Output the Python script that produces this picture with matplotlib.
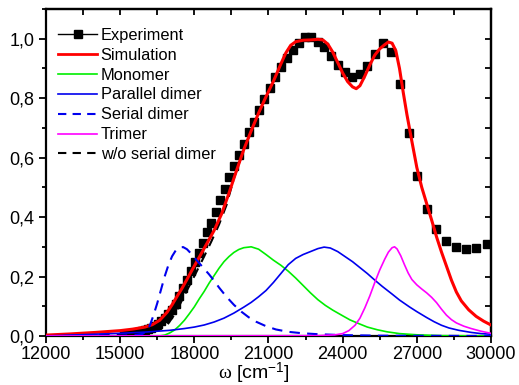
import numpy as np
import matplotlib
matplotlib.use('Agg')
import matplotlib.pyplot as plt
from matplotlib.ticker import MultipleLocator, FuncFormatter
from matplotlib.lines import Line2D

plt.rcParams['font.family'] = ['Liberation Sans', 'DejaVu Sans']
plt.rcParams['mathtext.fontset'] = 'custom'
plt.rcParams['mathtext.rm'] = 'Liberation Sans'
plt.rcParams['mathtext.it'] = 'Liberation Serif'

# 实验数据 (cm^-1, 归一化吸收)
exp_w = [15152, 15267, 15385, 15504, 15625, 15748, 15873, 16000, 16129, 16260,
         16393, 16529, 16667, 16807, 16949, 17094, 17241, 17391, 17544, 17699,
         17857, 18018, 18182, 18349, 18519, 18692, 18868, 19048, 19231, 19417,
         19608, 19802, 20000, 20202, 20408, 20619, 20833, 21053, 21277, 21505,
         21739, 21978, 22222, 22472, 22727, 22989, 23256, 23529, 23810, 24096,
         24390, 24691, 25000, 25316, 25641, 25974, 26316, 26667, 27027, 27397,
         27778, 28169, 28571, 28986, 29412, 29851]
exp_y = [0.005, 0.006, 0.008, 0.009, 0.011, 0.013, 0.016, 0.019, 0.023, 0.028,
         0.033, 0.041, 0.050, 0.060, 0.073, 0.088, 0.108, 0.133, 0.160, 0.190,
         0.219, 0.248, 0.280, 0.314, 0.349, 0.380, 0.417, 0.457, 0.494, 0.534,
         0.571, 0.608, 0.645, 0.686, 0.719, 0.760, 0.797, 0.834, 0.871, 0.904,
         0.934, 0.961, 0.985, 1.005, 1.005, 0.988, 0.971, 0.941, 0.911, 0.887,
         0.871, 0.881, 0.908, 0.948, 0.985, 0.955, 0.847, 0.682, 0.538, 0.427,
         0.360, 0.319, 0.299, 0.292, 0.296, 0.309]

# 模拟
sim_w = [12000, 13000, 14000, 15000, 15500, 16000, 16300, 16600, 16900, 17100,
         17300, 17500, 17700, 17950, 18200, 18500, 18800, 19100, 19400, 19700,
         20000, 20300, 20600, 20900, 21200, 21500, 21700, 21900, 22100, 22400,
         22700, 23000, 23200, 23400, 23600, 23800, 24000, 24200, 24400, 24550,
         24700, 24900, 25100, 25300, 25500, 25700, 25850, 26000, 26150, 26300,
         26450, 26600, 26800, 27000, 27200, 27400, 27600, 27800, 28000, 28200,
         28400, 28600, 28800, 29100, 29400, 29700, 30000]
sim_y = [0.003, 0.007, 0.012, 0.018, 0.023, 0.030, 0.038, 0.053, 0.080, 0.105,
         0.133, 0.160, 0.190, 0.228, 0.265, 0.310, 0.355, 0.410, 0.480, 0.555,
         0.627, 0.690, 0.750, 0.805, 0.857, 0.915, 0.952, 0.978, 0.990, 0.995,
         0.996, 0.998, 0.996, 0.982, 0.955, 0.920, 0.885, 0.856, 0.838, 0.832,
         0.842, 0.875, 0.912, 0.945, 0.966, 0.980, 0.989, 0.985, 0.960, 0.900,
         0.820, 0.745, 0.655, 0.567, 0.500, 0.445, 0.390, 0.333, 0.282, 0.235,
         0.188, 0.148, 0.118, 0.088, 0.066, 0.050, 0.037]

# 单体
mono_w = [12000, 16600, 16800, 17000, 17200, 17400, 17600, 17800, 18000, 18200,
          18400, 18600, 18800, 19000, 19200, 19400, 19600, 19800, 20000, 20300,
          20600, 20900, 21200, 21500, 21800, 22100, 22400, 22700, 23000, 23300,
          23600, 24000, 24300, 24700, 25000, 25400, 25800, 26300, 27000, 28000,
          30000]
mono_y = [0.0, 0.0, 0.003, 0.010, 0.020, 0.035, 0.053, 0.075, 0.098, 0.125,
          0.150, 0.178, 0.203, 0.228, 0.250, 0.267, 0.281, 0.291, 0.297, 0.300,
          0.292, 0.274, 0.255, 0.238, 0.218, 0.195, 0.170, 0.145, 0.122, 0.103,
          0.087, 0.068, 0.054, 0.040, 0.030, 0.021, 0.014, 0.008, 0.004, 0.001,
          0.0]

# 平行二聚体
par_w = [12000, 13000, 14000, 15000, 16000, 17000, 17600, 18000, 18400, 18800,
         19200, 19600, 20000, 20300, 20600, 20900, 21200, 21500, 21800, 22100,
         22400, 22700, 23000, 23250, 23500, 23800, 24100, 24400, 24700, 25000,
         25300, 25600, 26000, 26300, 26700, 27000, 27400, 27700, 28000, 28300,
         28700, 29200, 29600, 30000]
par_y = [0.0, 0.003, 0.006, 0.009, 0.013, 0.019, 0.025, 0.030, 0.037, 0.047,
         0.060, 0.077, 0.097, 0.113, 0.132, 0.153, 0.180, 0.210, 0.240, 0.261,
         0.274, 0.284, 0.294, 0.299, 0.296, 0.284, 0.267, 0.250, 0.230, 0.210,
         0.188, 0.167, 0.141, 0.121, 0.098, 0.082, 0.062, 0.048, 0.036, 0.027,
         0.019, 0.012, 0.008, 0.006]

# 串联二聚体
ser_w = [12000, 15000, 15600, 15900, 16050, 16200, 16350, 16500, 16650, 16800,
         16950, 17100, 17250, 17400, 17550, 17700, 17850, 18000, 18200, 18400,
         18600, 18800, 19000, 19300, 19600, 19900, 20200, 20500, 20900, 21300,
         21800, 22400, 23000, 24000, 25500, 30000]
ser_y = [0.0, 0.001, 0.003, 0.007, 0.015, 0.035, 0.070, 0.110, 0.155, 0.200,
         0.238, 0.268, 0.288, 0.298, 0.299, 0.292, 0.279, 0.264, 0.245, 0.226,
         0.207, 0.186, 0.163, 0.132, 0.105, 0.082, 0.063, 0.048, 0.033, 0.022,
         0.014, 0.009, 0.006, 0.003, 0.001, 0.0]

# 三聚体
tri_w = [12000, 23000, 23700, 24000, 24250, 24500, 24700, 24900, 25100, 25300,
         25500, 25700, 25850, 26000, 26100, 26200, 26350, 26500, 26650, 26800,
         27000, 27200, 27400, 27600, 27800, 28000, 28200, 28400, 28600, 28900,
         29200, 29600, 30000]
tri_y = [0.0, 0.001, 0.004, 0.008, 0.018, 0.036, 0.060, 0.095, 0.135, 0.180,
         0.222, 0.258, 0.282, 0.297, 0.300, 0.293, 0.270, 0.240, 0.212, 0.190,
         0.172, 0.158, 0.145, 0.130, 0.112, 0.090, 0.070, 0.055, 0.044, 0.033,
         0.025, 0.016, 0.009]

# 无串联二聚体
wo_w = [12000, 14000, 15000, 16000, 16400, 16700, 16900, 17100, 17300, 17500,
        17700, 17900, 18100, 18400, 18700, 19000, 19300, 19600, 20000, 20500]
wo_y = [0.001, 0.004, 0.007, 0.011, 0.016, 0.025, 0.037, 0.060, 0.087, 0.120,
        0.153, 0.185, 0.218, 0.268, 0.320, 0.375, 0.440, 0.530, 0.627, 0.730]

fig = plt.figure(figsize=(5.19, 3.85), dpi=100)
ax = fig.add_axes([0.0886, 0.1273, 0.8574, 0.8493])

ax.plot(exp_w, exp_y, linestyle='none', marker='s', ms=5.2, color='black', zorder=2)
ax.plot(wo_w, wo_y, color='black', lw=1.5, dashes=(5, 3.5), zorder=3)
ax.plot(sim_w, sim_y, color='#ff0000', lw=2.2, zorder=4)
ax.plot(mono_w, mono_y, color='#00ee00', lw=1.2, zorder=5)
ax.plot(par_w, par_y, color='#0000ee', lw=1.2, zorder=5)
ax.plot(ser_w, ser_y, color='#0000ee', lw=1.5, dashes=(5, 3.5), zorder=6)
ax.plot(tri_w, tri_y, color='#ff00ff', lw=1.2, zorder=7)

handles = [
    Line2D([0], [0], color='black', lw=1, marker='s', ms=6, label='Experiment'),
    Line2D([0], [0], color='#ff0000', lw=2, label='Simulation'),
    Line2D([0], [0], color='#00ee00', lw=1.2, label='Monomer'),
    Line2D([0], [0], color='#0000ee', lw=1.2, label='Parallel dimer'),
    Line2D([0], [0], color='#0000ee', lw=1.5, dashes=(4, 3), label='Serial dimer'),
    Line2D([0], [0], color='#ff00ff', lw=1.2, label='Trimer'),
    Line2D([0], [0], color='black', lw=1.5, dashes=(4, 3), label='w/o serial dimer'),
]
ax.legend(handles=handles, loc='upper left', bbox_to_anchor=(0.005, 0.973),
          frameon=False, fontsize=11.8, handlelength=2.4, handletextpad=0.2,
          labelspacing=0.3, borderaxespad=0.2)

ax.set_xlim(12000, 30000)
ax.set_ylim(0, 1.1)
ax.xaxis.set_major_locator(MultipleLocator(3000))
ax.xaxis.set_minor_locator(MultipleLocator(1500))
ax.yaxis.set_major_locator(MultipleLocator(0.2))
ax.yaxis.set_minor_locator(MultipleLocator(0.1))
ax.yaxis.set_major_formatter(FuncFormatter(lambda v, p: f"{v:.1f}".replace('.', ',')))
ax.tick_params(which='both', direction='out', labelsize=13, width=1.3)
ax.tick_params(which='major', length=5)
ax.tick_params(which='minor', length=3)
ax.tick_params(axis='x', pad=2)
for s in ax.spines.values():
    s.set_linewidth(1.6)

top = ax.secondary_xaxis('top')
top.xaxis.set_major_locator(MultipleLocator(3000))
top.xaxis.set_minor_locator(MultipleLocator(1500))
top.tick_params(which='both', direction='in', labeltop=False, width=1.3, length=4)
right = ax.secondary_yaxis('right')
right.yaxis.set_major_locator(MultipleLocator(0.2))
right.yaxis.set_minor_locator(MultipleLocator(0.1))
right.tick_params(which='both', direction='in', labelright=False, width=1.3, length=4)
top.spines['top'].set_linewidth(1.6)
right.spines['right'].set_linewidth(1.6)

# x轴标题，位置按原图摆放
fig.text(254 / 519, 1 - 379.5 / 385, r'$\omega$ [cm$^{\mathregular{-1}}$]',
         fontsize=14, ha='center', va='baseline')

fig.savefig('out.png', dpi=100)
